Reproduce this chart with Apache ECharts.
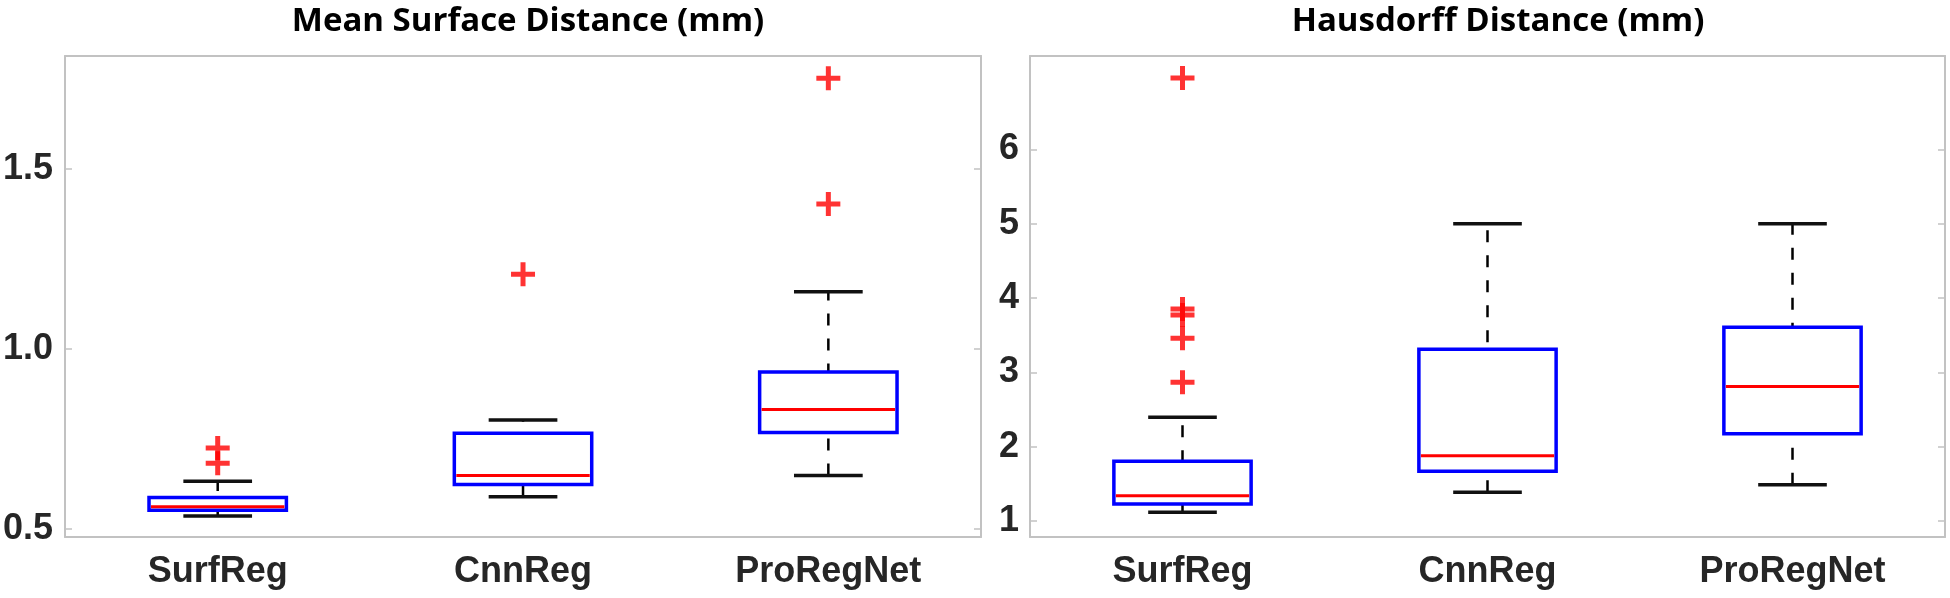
<!DOCTYPE html>
<html>
<head>
<meta charset="utf-8">
<script src="https://cdn.jsdelivr.net/npm/echarts@6/dist/echarts.min.js"></script>
<style>
  html, body { margin: 0; padding: 0; background: #fff; }
  #main { width: 1950px; height: 598px; }
</style>
</head>
<body>
<div id="main"></div>
<script>
// categories and values
var categories = ['SurfReg', 'CnnReg', 'ProRegNet'];

// [lower whisker, q1, median, q3, upper whisker]
var msdBoxes = [
  [0.536, 0.552, 0.562, 0.588, 0.633],
  [0.590, 0.624, 0.649, 0.766, 0.803],
  [0.649, 0.768, 0.832, 0.936, 1.159]
];
var msdOutliers = [[0, 0.683], [0, 0.725], [1, 1.208], [2, 1.403], [2, 1.752]];
var msdTicks = [0.5, 1.0, 1.5];

var hdBoxes = [
  [1.12, 1.231, 1.342, 1.806, 2.398],
  [1.388, 1.672, 1.878, 3.312, 5.0],
  [1.49, 2.175, 2.812, 3.606, 5.0]
];
var hdOutliers = [[0, 2.867], [0, 3.459], [0, 3.771], [0, 3.852], [0, 6.96]];
var hdTicks = [1, 2, 3, 4, 5, 6];

var frameColor = '#c2c2c2';
var labelFont = 'Liberation Sans';

function renderBox(params, api) {
  var x = api.value(0);
  var lo = api.coord([x, api.value(1)]);
  var q1 = api.coord([x, api.value(2)]);
  var md = api.coord([x, api.value(3)]);
  var q3 = api.coord([x, api.value(4)]);
  var hi = api.coord([x, api.value(5)]);
  var band = api.size([1, 0])[0];
  var bw = band * 0.45;
  var cw = bw / 2;
  var cx = lo[0];
  return {
    type: 'group',
    children: [
      { type: 'line', shape: { x1: cx, y1: lo[1], x2: cx, y2: hi[1] },
        style: { stroke: '#000', lineWidth: 2.5, lineDash: [12, 13] } },
      { type: 'line', shape: { x1: cx - cw / 2, y1: lo[1], x2: cx + cw / 2, y2: lo[1] },
        style: { stroke: '#111', lineWidth: 3.5 } },
      { type: 'line', shape: { x1: cx - cw / 2, y1: hi[1], x2: cx + cw / 2, y2: hi[1] },
        style: { stroke: '#111', lineWidth: 3.5 } },
      { type: 'rect', shape: { x: cx - bw / 2, y: q3[1], width: bw, height: q1[1] - q3[1] },
        style: { fill: '#fff', stroke: '#0000ff', lineWidth: 3.5 } },
      { type: 'line', shape: { x1: cx - bw / 2 + 2, y1: md[1], x2: cx + bw / 2 - 2, y2: md[1] },
        style: { stroke: '#ff0000', lineWidth: 3 } }
    ]
  };
}

function boxData(boxes) {
  return boxes.map(function (b, i) { return [i].concat(b); });
}

var plusSymbol = 'path://M9.5,0H14.5V9.5H24V14.5H14.5V24H9.5V14.5H0V9.5H9.5Z';

function xAxes(gridIndex) {
  return [
    {
      gridIndex: gridIndex, type: 'category', data: categories, position: 'bottom',
      axisLine: { lineStyle: { color: frameColor, width: 2 } },
      axisTick: { inside: true, alignWithLabel: true, length: 7, lineStyle: { color: frameColor, width: 1.5 } },
      axisLabel: { color: '#262626', fontFamily: labelFont, fontWeight: 'bold', fontSize: 36, margin: 17 }
    },
    {
      gridIndex: gridIndex, type: 'category', data: categories, position: 'top',
      axisLine: { lineStyle: { color: frameColor, width: 2 } },
      axisTick: { inside: true, alignWithLabel: true, length: 7, lineStyle: { color: frameColor, width: 1.5 } },
      axisLabel: { show: false }
    }
  ];
}

function yAxes(gridIndex, min, max, ticks, fmt, margin) {
  return [
    {
      gridIndex: gridIndex, type: 'value', min: min, max: max, position: 'left',
      splitLine: { show: false },
      axisLine: { show: true, lineStyle: { color: frameColor, width: 2 } },
      axisTick: { show: true, inside: true, length: 7, customValues: ticks, lineStyle: { color: frameColor, width: 1.5 } },
      axisLabel: { customValues: ticks, formatter: fmt, color: '#262626', fontFamily: labelFont,
        fontWeight: 'bold', fontSize: 36, margin: margin }
    },
    {
      gridIndex: gridIndex, type: 'value', min: min, max: max, position: 'right',
      splitLine: { show: false },
      axisLine: { show: true, lineStyle: { color: frameColor, width: 2 } },
      axisTick: { show: true, inside: true, length: 7, customValues: ticks, lineStyle: { color: frameColor, width: 1.5 } },
      axisLabel: { show: false }
    }
  ];
}

var chart = echarts.init(document.getElementById('main'));
chart.setOption({
  animation: false,
  backgroundColor: '#fff',
  title: [
    { text: 'Mean Surface Distance (mm)', left: 523, top: 0, textAlign: 'center',
      textStyle: { fontFamily: 'Open Sans', fontWeight: 'bold', fontSize: 33, color: '#000' } },
    { text: 'Hausdorff Distance (mm)', left: 1493, top: 0, textAlign: 'center',
      textStyle: { fontFamily: 'Open Sans', fontWeight: 'bold', fontSize: 33, color: '#000' } }
  ],
  grid: [
    { left: 65, top: 56, width: 916, height: 481 },
    { left: 1030, top: 56, width: 915, height: 481 }
  ],
  xAxis: xAxes(0).concat(xAxes(1)),
  yAxis: yAxes(0, 0.478, 1.814, msdTicks, function (v) { return v.toFixed(1); }, 12)
    .concat(yAxes(1, 0.786, 7.256, hdTicks, function (v) { return String(v); }, 11)),
  series: [
    { type: 'custom', xAxisIndex: 0, yAxisIndex: 0, renderItem: renderBox, data: boxData(msdBoxes) },
    { type: 'scatter', xAxisIndex: 0, yAxisIndex: 0, data: msdOutliers, symbol: plusSymbol,
      symbolSize: 24, itemStyle: { color: '#ff0000' } },
    { type: 'custom', xAxisIndex: 2, yAxisIndex: 2, renderItem: renderBox, data: boxData(hdBoxes) },
    { type: 'scatter', xAxisIndex: 2, yAxisIndex: 2, data: hdOutliers, symbol: plusSymbol,
      symbolSize: 24, itemStyle: { color: '#ff0000' } }
  ]
});
</script>
</body>
</html>
